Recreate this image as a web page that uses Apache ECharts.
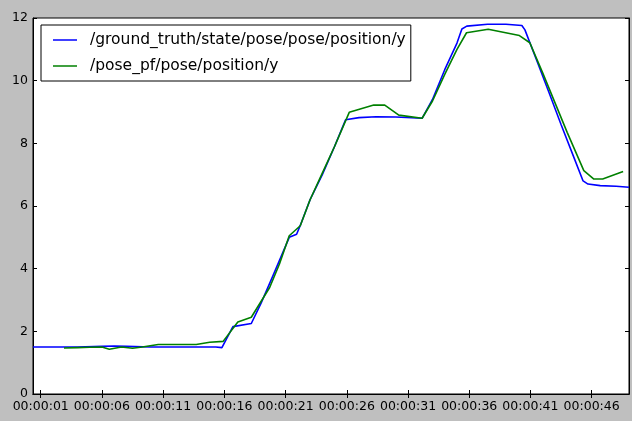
<!DOCTYPE html>
<html>
<head>
<meta charset="utf-8">
<script src="https://cdn.jsdelivr.net/npm/echarts@6/dist/echarts.min.js"></script>
<style>
html,body{margin:0;padding:0;background:#bfbfbf;}
#chart{width:632px;height:421px;}
</style>
</head>
<body>
<div id="chart"></div>
<script>
var seriesNames = ['/ground_truth/state/pose/pose/position/y', '/pose_pf/pose/position/y'];

var gtT = [0.37, 2, 4, 6, 7, 8, 10, 12, 14, 15.3, 15.8, 16.7, 18.2, 19, 20, 21.3, 21.9, 22.2, 23, 24, 25, 25.9, 27, 28.4, 30, 32.15, 33, 34, 35, 35.4, 35.8, 37.5, 39, 40.3, 40.55, 41.5, 42.5, 43.5, 44.5, 45.3, 45.7, 46.7, 48, 49.05];
var gtY = [1.5, 1.5, 1.5, 1.52, 1.53, 1.52, 1.5, 1.5, 1.5, 1.5, 1.48, 2.15, 2.25, 2.9, 3.8, 5.0, 5.1, 5.38, 6.2, 7.0, 7.9, 8.75, 8.82, 8.85, 8.84, 8.8, 9.4, 10.35, 11.2, 11.65, 11.74, 11.8, 11.8, 11.76, 11.62, 10.66, 9.64, 8.6, 7.6, 6.8, 6.7, 6.65, 6.63, 6.6];

var pfT = [2.9, 4, 5, 6, 6.6, 7.6, 8.5, 9.3, 10.6, 12, 13.7, 14.8, 15.9, 17.1, 18.2, 19.7, 20.5, 21.3, 22.2, 23, 24, 25, 26.2, 28.2, 29.1, 30.25, 32.15, 33, 34, 35, 35.78, 37.55, 40.1, 40.95, 42, 43, 44, 45.36, 46.18, 46.9, 48.57];
var pfY = [1.47, 1.48, 1.49, 1.5, 1.43, 1.5, 1.46, 1.5, 1.58, 1.58, 1.58, 1.65, 1.68, 2.3, 2.45, 3.4, 4.15, 5.05, 5.37, 6.2, 7.05, 7.9, 8.99, 9.22, 9.22, 8.9, 8.8, 9.35, 10.2, 11.0, 11.53, 11.64, 11.44, 11.21, 10.25, 9.3, 8.35, 7.13, 6.86, 6.86, 7.1];

var xTicks = [1, 6, 11, 16, 21, 26, 31, 36, 41, 46];
var yTicks = [0, 2, 4, 6, 8, 10, 12];

function pairs(t, y) { return t.map(function (v, i) { return [v, y[i]]; }); }
function fmt(s) { var ss = Math.round(s); return '00:00:' + (ss < 10 ? '0' + ss : ss); }

var font = 'DejaVu Sans';
var tickStyle = { show: true, inside: true, length: 4, lineStyle: { color: '#000', width: 1 } };
var lineStyle = { show: true, lineStyle: { color: '#000', width: 1 } };

var chart = echarts.init(document.getElementById('chart'), null, { renderer: 'canvas' });
chart.setOption({
  backgroundColor: '#bfbfbf',
  animation: false,
  grid: { left: 33, right: 3, top: 18, bottom: 27, show: true, backgroundColor: '#ffffff', borderColor: '#000', borderWidth: 1 },
  legend: {
    left: 41, top: 25,
    orient: 'vertical',
    data: seriesNames,
    icon: 'path://M0 0H24V1.5H0Z',
    itemWidth: 24, itemHeight: 14, itemGap: 10,
    padding: [7, 5, 7, 12],
    borderColor: '#000', borderWidth: 1, backgroundColor: '#fff',
    textStyle: { fontFamily: font, fontSize: 15.5, color: '#000', padding: [0, 0, 0, 8] }
  },
  xAxis: [{
    type: 'value', position: 'bottom', min: 0.37, max: 49.05,
    axisLine: lineStyle,
    axisTick: Object.assign({ customValues: xTicks }, tickStyle),
    axisLabel: { customValues: xTicks, formatter: fmt, fontFamily: font, fontSize: 12.5, color: '#000', margin: 6 },
    splitLine: { show: false }
  }, {
    type: 'value', position: 'top', min: 0.37, max: 49.05,
    axisLine: lineStyle,
    axisTick: Object.assign({ customValues: xTicks }, tickStyle),
    axisLabel: { show: false },
    splitLine: { show: false }
  }],
  yAxis: [{
    type: 'value', position: 'left', min: 0, max: 12,
    axisLine: lineStyle,
    axisTick: Object.assign({ customValues: yTicks }, tickStyle),
    axisLabel: { customValues: yTicks, fontFamily: font, fontSize: 12.5, color: '#000', margin: 5 },
    splitLine: { show: false }
  }, {
    type: 'value', position: 'right', min: 0, max: 12,
    axisLine: lineStyle,
    axisTick: Object.assign({ customValues: yTicks }, tickStyle),
    axisLabel: { show: false },
    splitLine: { show: false }
  }],
  series: [{
    name: seriesNames[0], type: 'line', data: pairs(gtT, gtY),
    symbol: 'none', lineStyle: { color: '#0000ff', width: 1.6 }, itemStyle: { color: '#0000ff' }
  }, {
    name: seriesNames[1], type: 'line', data: pairs(pfT, pfY),
    symbol: 'none', lineStyle: { color: '#008000', width: 1.6 }, itemStyle: { color: '#008000' }
  }]
});
</script>
</body>
</html>
